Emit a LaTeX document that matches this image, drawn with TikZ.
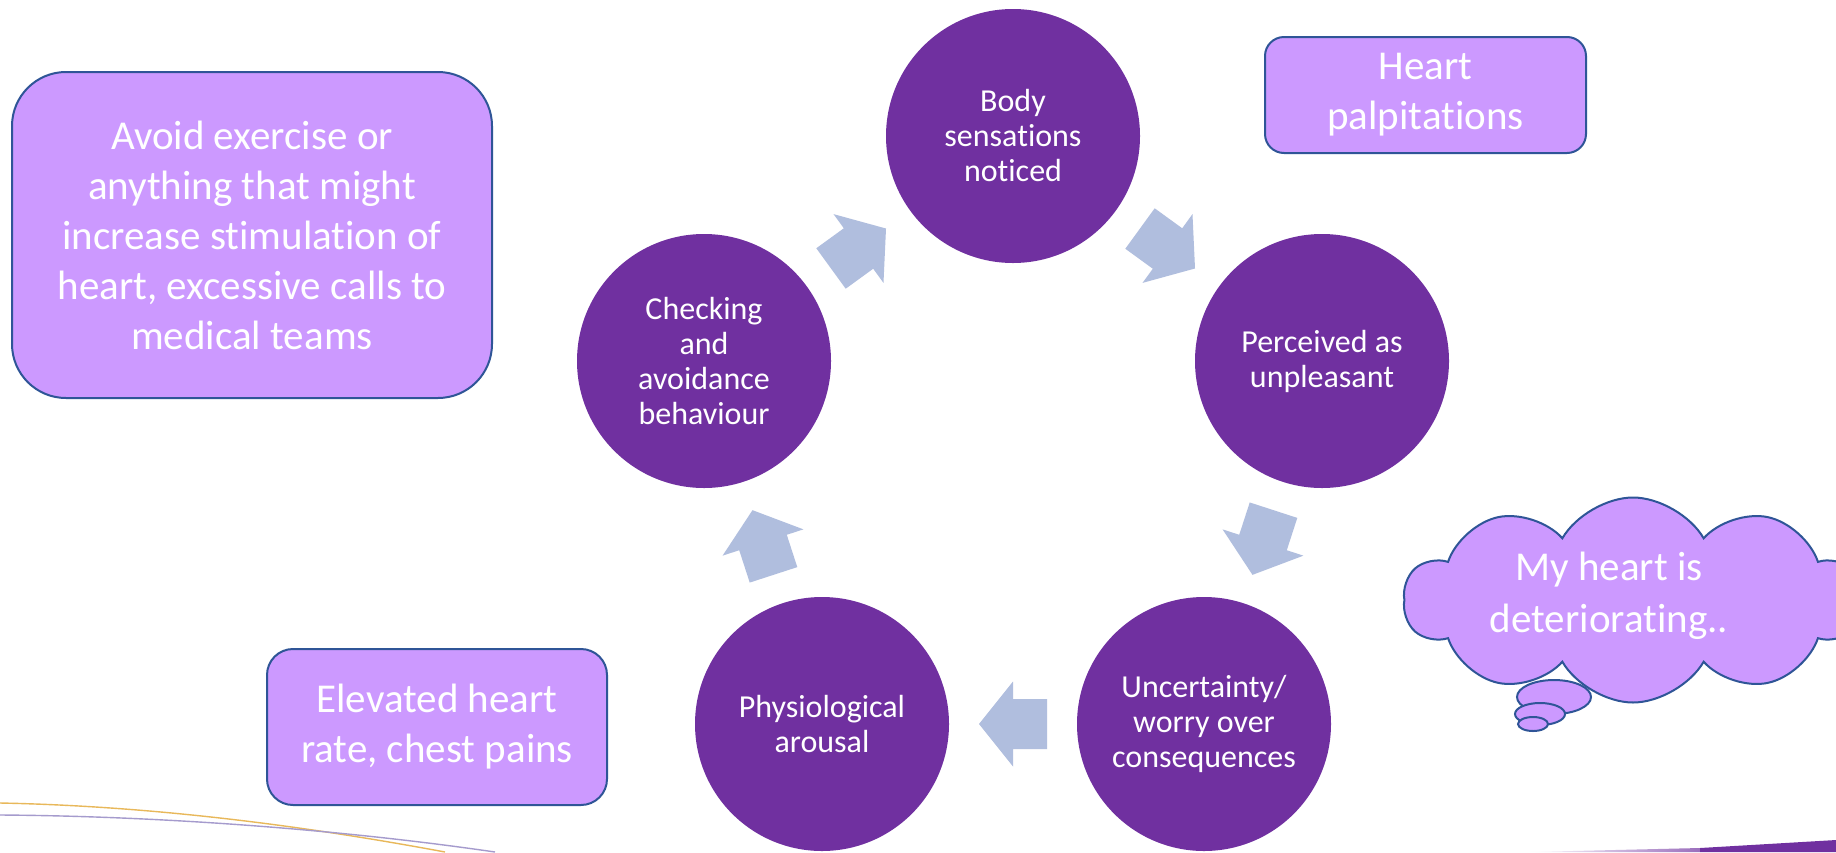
\documentclass[tikz,border=0pt]{standalone}
\usepackage{fontspec}
\setmainfont[Ligatures={NoCommon,NoContextual}]{Carlito}
\usetikzlibrary{shapes.symbols,calc}
\definecolor{circ}{RGB}{112,48,160}
\definecolor{boxfill}{RGB}{204,153,255}
\definecolor{boxline}{RGB}{47,85,151}
\definecolor{arr}{RGB}{176,190,222}
\definecolor{goldline}{RGB}{232,184,90}
\definecolor{lavline}{RGB}{165,155,205}
\newcommand\blockarr[3]{%
  \begin{scope}[shift={($(#1)!0.5!(#2)$)}, rotate=#3]
    \fill[arr] (-34,-25) -- (0,-25) -- (0,-42.5) -- (34,0) -- (0,42.5) -- (0,25) -- (-34,25) -- cycle;
  \end{scope}}
\begin{document}
\begin{tikzpicture}[x=1pt,y=-1pt,
  stage/.style={circle, fill=circ, text=white, minimum size=254pt, inner sep=0pt,
    align=center, font=\fontsize{32}{35}\selectfont},
  note/.style={rounded corners=#1, fill=boxfill, draw=boxline, line width=2pt,
    text=white, align=center, font=\fontsize{41}{50}\selectfont, inner sep=0pt},
  bubble/.style={fill=boxfill, draw=boxline, line width=2pt}
]
\useasboundingbox (0,0) rectangle (1836,852);
\fill[white] (0,0) rectangle (1836,852);

% template decorations
\draw[goldline, line width=1.4pt] (0,803) .. controls (150,806) and (300,825) .. (445,852);
\draw[lavline, line width=1.4pt] (0,815) .. controls (150,816) and (330,828) .. (495,852);
\shade[left color=white, right color=circ!70] (1530,852) -- (1700,848) -- (1700,852) -- cycle;
\fill[circ] (1700,848) -- (1836,840) -- (1836,852) -- (1700,852) -- cycle;

% cycle stages
\node[stage] (body) at (1013,136) {Body\\sensations\\noticed};
\node[stage] (perc) at (1322,361) {Perceived as\\unpleasant};
\node[stage] (unc)  at (1204,724) {Uncertainty/\\worry over\\consequences};
\node[stage] (phys) at (822,724)  {Physiological\\arousal};
\node[stage] (chk)  at (704,361)  {Checking\\and\\avoidance\\behaviour};

% block arrows
\blockarr{chk}{body}{36}
\blockarr{body}{perc}{-36}
\blockarr{perc}{unc}{-108}
\blockarr{unc}{phys}{180}
\blockarr{phys}{chk}{108}

% note boxes
\node[note=54pt, minimum width=480pt, minimum height=326pt] (avoid) at (252,235)
  {Avoid exercise or\\anything that might\\increase stimulation of\\heart, excessive calls to\\medical teams};
\node[note=19pt, minimum width=321pt, minimum height=116pt] (palp) at (1425.5,95)
  {Heart\\palpitations};
\node[note=26pt, minimum width=340pt, minimum height=156pt] (elev) at (437,727)
  {Elevated heart\\rate, chest pains};

% thought cloud
\node[cloud, cloud puffs=10, cloud puff arc=120, aspect=2.2, minimum width=458pt, minimum height=205pt,
  fill=boxfill, draw=boxline, line width=2pt] (cloud) at (1633,600) {};
\node[text=white, align=center, font=\fontsize{41}{52}\selectfont] (thought) at (1609,596)
  {My heart is\\deteriorating..};
\filldraw[bubble] (1554,697) ellipse [x radius=37pt, y radius=17pt];
\filldraw[bubble] (1540,714) ellipse [x radius=25pt, y radius=11pt];
\filldraw[bubble] (1533,724) ellipse [x radius=15pt, y radius=7pt];
\end{tikzpicture}
\end{document}
